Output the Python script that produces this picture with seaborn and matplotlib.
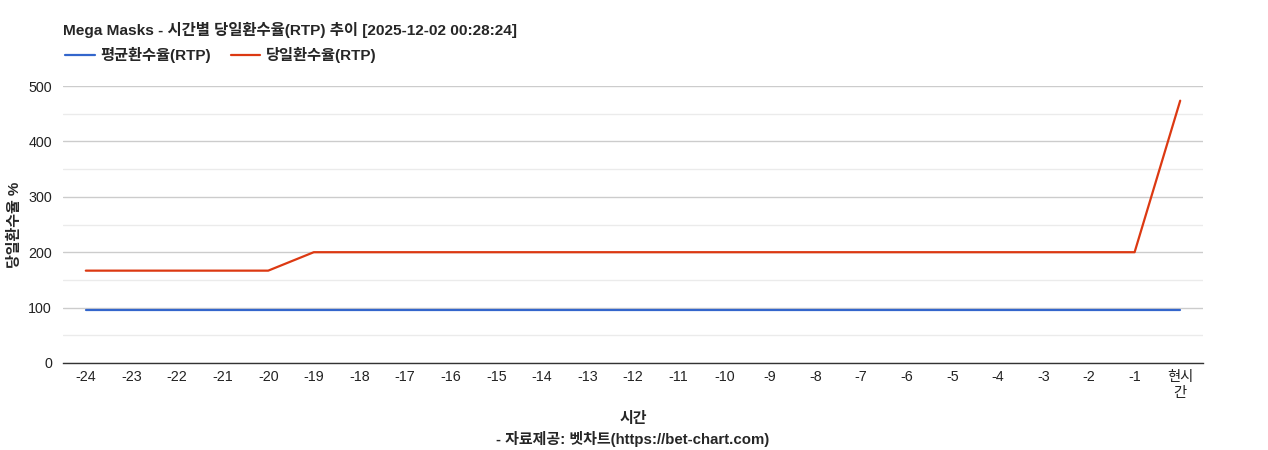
import matplotlib
matplotlib.use("Agg")
import matplotlib.pyplot as plt
import seaborn as sns
import pandas as pd
from matplotlib.ticker import MultipleLocator
from matplotlib.lines import Line2D

hours = ["-24", "-23", "-22", "-21", "-20", "-19", "-18", "-17", "-16", "-15", "-14", "-13",
         "-12", "-11", "-10", "-9", "-8", "-7", "-6", "-5", "-4", "-3", "-2", "-1", "현시\n간"]
avg_rtp = [96.5] * 25
day_rtp = [166.7, 166.7, 166.7, 166.7, 166.7, 200, 200, 200, 200, 200, 200, 200,
           200, 200, 200, 200, 200, 200, 200, 200, 200, 200, 200, 200, 473.5]
series_names = ["평균환수율(RTP)", "당일환수율(RTP)"]
title = "Mega Masks - 시간별 당일환수율(RTP) 추이 [2025-12-02 00:28:24]"

sns.set_theme(style="white")
plt.rcParams['font.family'] = ['Liberation Sans', 'Noto Sans CJK KR', 'DejaVu Sans']

df = pd.DataFrame({
    "x": list(range(len(hours))) * 2,
    "value": avg_rtp + day_rtp,
    "series": [series_names[0]] * len(hours) + [series_names[1]] * len(hours),
})

fig = plt.figure(figsize=(12.68, 4.5), dpi=100)
ax = fig.add_axes([63/1268, 1 - 363/450, (1203-63)/1268, (363-86)/450])

sns.lineplot(data=df, x="x", y="value", hue="series",
             palette={series_names[0]: "#3366cc", series_names[1]: "#dc3912"},
             linewidth=1.6, ax=ax, legend=False)

ax.set_xlim(-0.5, len(hours) - 0.5)
ax.set_ylim(0, 500)
ax.set_xticks(range(len(hours)))
ax.set_xticklabels(hours, fontsize=10.3, color="#222222", linespacing=1.15)
ax.yaxis.set_major_locator(MultipleLocator(100))
ax.yaxis.set_minor_locator(MultipleLocator(50))
ax.tick_params(axis="y", labelsize=10.3, colors="#222222", length=0, pad=8)
ax.tick_params(axis="x", length=0, pad=5)
ax.grid(which="major", axis="y", color="#cccccc", linewidth=1)
ax.grid(which="minor", axis="y", color="#ebebeb", linewidth=1)
ax.set_axisbelow(True)
for s in ["top", "right", "left"]:
    ax.spines[s].set_visible(False)
ax.spines["bottom"].set_color("#333333")
ax.spines["bottom"].set_linewidth(1)

ax.set_xlabel("시간\n- 자료제공: 벳차트(https://bet-chart.com)", fontsize=10.8,
              fontweight="bold", labelpad=9, linespacing=1.35)
ax.set_ylabel("당일환수율 %", fontsize=10.8, fontweight="bold")
ax.yaxis.set_label_coords(-0.036, 0.5)

fig.text(63/1268, 1 - 30/450, title, fontsize=11.1, fontweight="bold", va="center", ha="left")

handles = [Line2D([], [], color="#3366cc", lw=1.6), Line2D([], [], color="#dc3912", lw=1.6)]
fig.legend(handles, series_names, loc="center left",
           bbox_to_anchor=(51/1268, 1 - 55/450), ncol=2, frameon=False,
           prop={"weight": "bold", "size": 11}, handlelength=1.96,
           columnspacing=1.3, handletextpad=0.35)

fig.savefig("out.png", dpi=100)
